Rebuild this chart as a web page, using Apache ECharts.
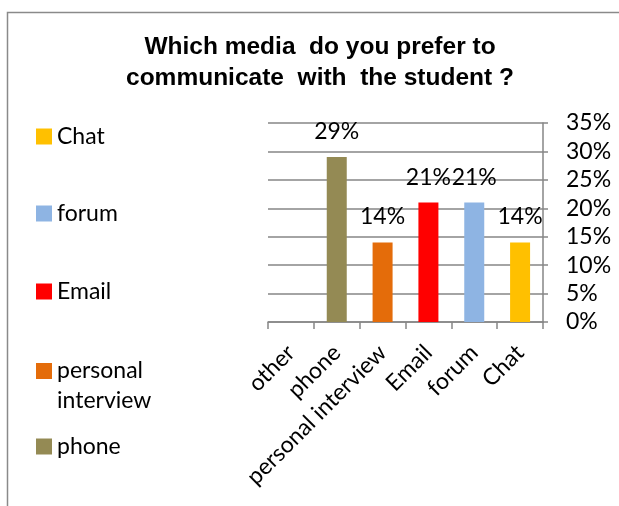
<!DOCTYPE html>
<html>
<head>
<meta charset="utf-8">
<script src="https://cdn.jsdelivr.net/npm/echarts@6/dist/echarts.min.js"></script>
<style>
  html, body { margin: 0; padding: 0; background: #fff; }
  #chart { width: 619px; height: 506px; }
</style>
</head>
<body>
<div id="chart"></div>
<script>
// Survey answers (percent of respondents)
const categories = ['other', 'phone', 'personal interview', 'Email', 'forum', 'Chat'];
const values = [0, 29, 14, 21, 21, 14];
const yTicks = [0, 5, 10, 15, 20, 25, 30, 35];
const legendOrder = ['Chat', 'forum', 'Email', 'personal interview', 'phone'];

// Styling
const barColors = {
  'other': '#7f7f7f',
  'phone': '#948A54',
  'personal interview': '#E46C0A',
  'Email': '#FF0000',
  'forum': '#8EB4E3',
  'Chat': '#FFC000'
};
const legendTops = {
  'Chat': 125,
  'forum': 202,
  'Email': 280,
  'personal interview': 326,
  'phone': 435
};
const gridColor = '#868686';
const bodyFont = 'Lato';
const bodySize = 23;

const chart = echarts.init(document.getElementById('chart'));

// One stacked series per category so that each bar gets its own legend entry
const series = categories.map((name, i) => ({
  name: name,
  type: 'bar',
  stack: 'all',
  barWidth: 20,
  itemStyle: { color: barColors[name] },
  label: {
    show: true,
    position: 'top',
    distance: 14,
    fontFamily: bodyFont,
    fontSize: bodySize,
    color: '#000',
    formatter: p => (p.value ? p.value + '%' : '')
  },
  data: categories.map((c, j) => (j === i ? values[i] : '-'))
}));

// Legend entries are placed one by one; the wrapped entry keeps its first
// line level with the colour swatch by centring on the middle of three lines.
const legends = legendOrder.map(name => {
  const twoLine = name.includes(' ');
  return {
    orient: 'vertical',
    left: 36,
    top: legendTops[name],
    padding: 0,
    icon: 'rect',
    itemWidth: 16,
    itemHeight: 16,
    selectedMode: false,
    textStyle: {
      fontFamily: bodyFont,
      fontSize: bodySize,
      color: '#000',
      lineHeight: twoLine ? 30 : 16
    },
    formatter: n => (n.includes(' ') ? '\n' + n.replace(' ', '\n') : n),
    data: [name]
  };
});

chart.setOption({
  animation: false,
  title: {
    text: 'Which media  do you prefer to\ncommunicate  with  the student ?',
    left: 320,
    top: 32,
    padding: 0,
    textAlign: 'center',
    textStyle: {
      fontFamily: 'Liberation Sans',
      fontWeight: 'bold',
      fontSize: 24.5,
      lineHeight: 31,
      color: '#000'
    }
  },
  legend: legends,
  grid: { left: 268, right: 76, top: 123, bottom: 184, containLabel: false },
  xAxis: {
    type: 'category',
    data: categories,
    axisLine: { show: true, lineStyle: { color: gridColor, width: 1.5 } },
    axisTick: { show: true, length: 7, lineStyle: { color: gridColor, width: 1.5 } },
    axisLabel: {
      interval: 0,
      rotate: 45,
      margin: 27,
      fontFamily: bodyFont,
      fontSize: bodySize,
      color: '#000'
    }
  },
  yAxis: {
    type: 'value',
    position: 'right',
    min: yTicks[0],
    max: yTicks[yTicks.length - 1],
    interval: yTicks[1] - yTicks[0],
    axisLine: { show: true, lineStyle: { color: gridColor, width: 1.5 } },
    axisTick: { show: true, length: 5, lineStyle: { color: gridColor, width: 1.5 } },
    splitLine: { show: true, lineStyle: { color: gridColor, width: 1.5 } },
    axisLabel: {
      margin: 23,
      fontFamily: bodyFont,
      fontSize: bodySize,
      color: '#000',
      formatter: '{value}%'
    }
  },
  graphic: [{
    type: 'rect',
    shape: { x: 7.5, y: 12.5, width: 800, height: 800 },
    style: { fill: 'none', stroke: '#8a8a8a', lineWidth: 1.5 },
    silent: true,
    z: -1
  }],
  series: series
});
</script>
</body>
</html>
